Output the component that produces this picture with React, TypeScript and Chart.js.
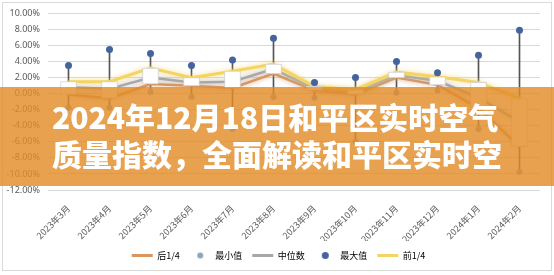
import React, { useEffect, useRef } from "react";
import { Chart, registerables } from "chart.js";

Chart.register(...registerables);

const categories = [
  "2023年3月", "2023年4月", "2023年5月", "2023年6月", "2023年7月", "2023年8月",
  "2023年9月", "2023年10月", "2023年11月", "2023年12月", "2024年1月", "2024年2月",
];
const maxValues = [3.5, 5.5, 5.0, 3.5, 4.2, 6.9, 1.4, 2.0, 4.0, 2.6, 4.8, 7.9];
const q3Values = [1.5, 1.5, 3.2, 2.0, 2.8, 3.7, 0.9, 0.5, 2.7, 2.1, 1.4, -0.6];
const medianValues = [0.8, 0.6, 2.0, 1.4, 1.5, 3.1, 0.6, 0.2, 2.3, 1.6, -0.5, -3.5];
const q1Values = [-0.1, -0.6, 1.2, 1.0, 0.7, 2.5, 0.4, -0.1, 2.0, 1.1, -1.8, -6.6];
const minValues = [-1.75, -1.75, 0.2, -0.4, -4.4, -0.4, -0.5, -6.0, 0.1, 0.4, -4.4, -9.75];
const yMin = -12;
const yMax = 10;
const yStep = 2;

const legendNames = ["后1/4", "最小值", "中位数", "最大值", "前1/4"];
const bannerLines = ["2024年12月18日和平区实时空气", "质量指数，全面解读和平区实时空"];

const C_Q1 = "#DB9660";
const C_MED = "#A8A8A8";
const C_Q3 = "#F4D462";
const C_MIN = "#8EA2C0";
const C_MAX = "#46639C";
const C_WHISKER = "#555555";

function dotImage(color: string, r: number) {
  const c = document.createElement("canvas");
  c.width = c.height = Math.ceil(r * 2 + 2);
  const ctx = c.getContext("2d")!;
  ctx.fillStyle = color;
  ctx.beginPath();
  ctx.arc(c.width / 2, c.height / 2, r, 0, Math.PI * 2);
  ctx.fill();
  return c;
}

const glowPlugin = {
  id: "glow",
  beforeDatasetDraw(chart: any, args: any) {
    const ds = chart.data.datasets[args.index];
    if (ds.glow) {
      chart.ctx.save();
      chart.ctx.shadowColor = ds.glow;
      chart.ctx.shadowBlur = 5;
    }
  },
  afterDatasetDraw(chart: any, args: any) {
    const ds = chart.data.datasets[args.index];
    if (ds.glow) chart.ctx.restore();
  },
};

export default function App() {
  const ref = useRef<HTMLCanvasElement | null>(null);

  useEffect(() => {
    if (!ref.current) return;
    const minDot = dotImage(C_MIN, 3);
    const maxDot = dotImage(C_MAX, 3.5);
    const lineSet = (label: string, data: number[], color: string, width: number, order: number) => ({
      type: "line" as const,
      label,
      data,
      borderColor: color,
      backgroundColor: color,
      borderWidth: width,
      pointRadius: 0,
      tension: 0,
      order,
      glow: color + "CC",
    });
    const chart = new Chart(ref.current, {
      type: "bar",
      data: {
        labels: categories,
        datasets: [
          {
            type: "line",
            label: legendNames[3],
            data: maxValues,
            showLine: false,
            pointRadius: 3.5,
            pointBackgroundColor: C_MAX,
            pointBorderWidth: 0,
            order: 0,
          } as any,
          {
            type: "line",
            label: legendNames[1],
            data: minValues,
            showLine: false,
            pointRadius: 3,
            pointBackgroundColor: C_MIN,
            pointBorderWidth: 0,
            order: 1,
          } as any,
          {
            type: "bar",
            label: "box",
            data: q1Values.map((v, i) => [v, q3Values[i]]),
            backgroundColor: "#FFFFFF",
            borderColor: "#D4D4D4",
            borderWidth: 1,
            borderSkipped: false,
            barThickness: 16,
            grouped: false,
            order: 2,
          } as any,
          lineSet(legendNames[4], q3Values, C_Q3, 3, 3) as any,
          lineSet(legendNames[2], medianValues, C_MED, 2.5, 4) as any,
          lineSet(legendNames[0], q1Values, C_Q1, 2.5, 5) as any,
          {
            type: "bar",
            label: "whisker",
            data: minValues.map((v, i) => [v, maxValues[i]]),
            backgroundColor: C_WHISKER,
            borderWidth: 0,
            barThickness: 1,
            grouped: false,
            order: 6,
          } as any,
        ],
      },
      options: {
        responsive: false,
        maintainAspectRatio: false,
        animation: false,
        layout: { padding: { left: 3, right: 0, top: 13, bottom: 5 } },
        plugins: {
          tooltip: { enabled: false },
          legend: {
            position: "bottom",
            labels: {
              usePointStyle: true,
              pointStyleWidth: 21,
              padding: 10,
              color: "#595959",
              font: { family: "'Noto Sans CJK SC', 'Noto Sans', sans-serif", size: 9 },
              generateLabels: () => [
                { text: legendNames[0], pointStyle: "line", strokeStyle: C_Q1, fillStyle: C_Q1, lineWidth: 3, hidden: false, datasetIndex: 5 },
                { text: legendNames[1], pointStyle: minDot, strokeStyle: C_MIN, fillStyle: C_MIN, lineWidth: 0, hidden: false, datasetIndex: 1 },
                { text: legendNames[2], pointStyle: "line", strokeStyle: C_MED, fillStyle: C_MED, lineWidth: 3, hidden: false, datasetIndex: 4 },
                { text: legendNames[3], pointStyle: maxDot, strokeStyle: C_MAX, fillStyle: C_MAX, lineWidth: 0, hidden: false, datasetIndex: 0 },
                { text: legendNames[4], pointStyle: "line", strokeStyle: C_Q3, fillStyle: C_Q3, lineWidth: 3, hidden: false, datasetIndex: 3 },
              ] as any,
            },
          },
        },
        scales: {
          x: {
            offset: true,
            grid: { display: false },
            border: { display: false },
            ticks: {
              autoSkip: false,
              minRotation: 45,
              maxRotation: 45,
              padding: 5,
              color: "#595959",
              font: { family: "'Noto Sans CJK SC', 'Noto Sans', sans-serif", size: 9 },
            },
            afterFit: (s: any) => {
              s.height = 51;
            },
          },
          y: {
            min: yMin,
            max: yMax,
            grid: { color: "#D9D9D9", drawTicks: false },
            border: { display: false },
            ticks: {
              stepSize: yStep,
              padding: 8,
              color: "#595959",
              font: { family: "'Noto Sans', sans-serif", size: 9 },
              callback: (v: any) => Number(v).toFixed(2) + "%",
            },
            afterFit: (s: any) => {
              s.width = 45;
            },
          },
          ySpacer: {
            type: "linear",
            position: "right",
            display: true,
            grid: { display: false, drawTicks: false },
            border: { display: false },
            ticks: { display: false },
            afterFit: (s: any) => {
              s.width = 14;
            },
          },
        } as any,
      },
      plugins: [glowPlugin],
    });
    return () => chart.destroy();
  }, []);

  return (
    <div style={{ position: "absolute", left: 0, top: 0, width: 554, height: 275, background: "#FFFFFF", overflow: "hidden" }}>
      <canvas ref={ref} width={554} height={275} style={{ position: "absolute", left: 0, top: 0 }} />
      <div
        style={{
          position: "absolute",
          left: 2,
          top: 2,
          width: 548,
          height: 267,
          border: "1px solid #D9D9D9",
          pointerEvents: "none",
        }}
      />
      <div
        style={{
          position: "absolute",
          left: 0,
          top: 87,
          width: 554,
          height: 99,
          background: "rgba(226,140,40,0.82)",
          boxSizing: "border-box",
          paddingTop: 11,
          paddingLeft: 52,
          color: "#FFFFFF",
          fontFamily: "'Noto Sans CJK SC', sans-serif",
          fontWeight: 900,
          fontSize: 30,
          lineHeight: "37px",
          whiteSpace: "nowrap",
          overflow: "hidden",
        }}
      >
        <div>{bannerLines[0]}</div>
        <div>{bannerLines[1]}</div>
      </div>
    </div>
  );
}
